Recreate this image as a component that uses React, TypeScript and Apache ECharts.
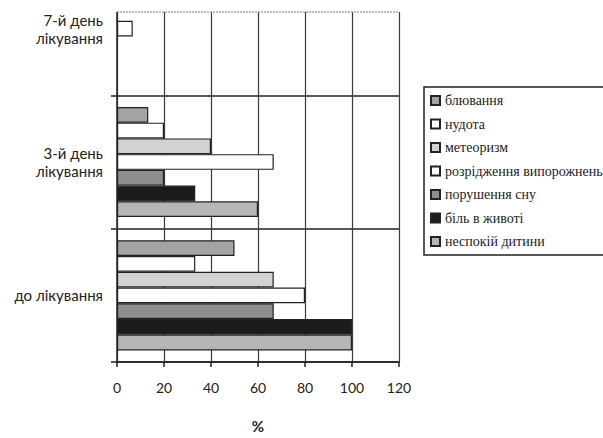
import React, { useEffect, useRef } from 'react';
import * as echarts from 'echarts';

// Categories bottom-to-top (ECharts horizontal bar: first category at bottom)
const categories = ['до лікування', '3-й день\nлікування', '7-й день\nлікування'];
const seriesNames = [
  'блювання',
  'нудота',
  'метеоризм',
  'розрідження випорожнень',
  'порушення сну',
  'біль в животі',
  'неспокій дитини',
];
// values in %, per category [до лікування, 3-й день, 7-й день]
const vomiting = [50, 13.3, null];
const nausea = [33.3, 20, null];
const meteorism = [66.7, 40, null];
const looseStool = [80, 66.7, 6.7];
const sleepDisorder = [66.7, 20, null];
const abdominalPain = [100, 33.3, null];
const restlessness = [100, 60, null];
const seriesValues = [vomiting, nausea, meteorism, looseStool, sleepDisorder, abdominalPain, restlessness];
const seriesColors = ['#a4a4a4', '#ffffff', '#d2d2d2', '#ffffff', '#8e8e8e', '#1c1c1c', '#b6b6b6'];
const xMin = 0;
const xMax = 120;
const xStep = 20;

const OFFSET = 50; // chart is shifted up so the top category band is cut off like in the source

export default function App() {
  const ref = useRef<HTMLDivElement>(null);
  useEffect(() => {
    if (!ref.current) return;
    const chart = echarts.init(ref.current, null, { renderer: 'svg' });
    const plotLeft = 117;
    const plotRight = 399;
    const plotTop = 12 + OFFSET;
    chart.setOption({
      animation: false,
      backgroundColor: '#ffffff',
      grid: { left: plotLeft, right: 603 - plotRight, top: OFFSET - 38, bottom: 62, containLabel: false },
      xAxis: {
        type: 'value',
        min: xMin,
        max: xMax,
        interval: xStep,
        name: '%',
        nameLocation: 'middle',
        nameGap: 56,
        nameTextStyle: { fontFamily: 'Lato', fontSize: 15, fontWeight: 'bold', color: '#222' },
        axisLine: { show: true, lineStyle: { color: '#222', width: 1.5 } },
        axisTick: { show: true, length: 5, lineStyle: { color: '#222', width: 1.5 } },
        axisLabel: { margin: 18, fontFamily: 'Lato', fontSize: 14, color: '#222' },
        splitLine: { show: true, lineStyle: { color: '#3a3a3a', width: 1.2 } },
      },
      yAxis: {
        type: 'category',
        data: categories,
        axisLine: { show: true, lineStyle: { color: '#222', width: 1.5 } },
        axisTick: { show: true, length: 6, lineStyle: { color: '#222', width: 1.5 } },
        axisLabel: {
          margin: 14,
          fontFamily: 'Lato',
          fontSize: 15,
          color: '#222',
          lineHeight: 18,
          align: 'right',
          padding: [6, 0, 0, 0],
        },
        splitLine: { show: true, lineStyle: { color: '#222', width: 1.5 } },
      },
      legend: {
        orient: 'vertical',
        left: 424,
        top: 87 + OFFSET,
        data: seriesNames,
        itemWidth: 9,
        itemHeight: 9,
        itemGap: 8.5,
        padding: [6, 4, 6, 6],
        borderColor: '#222',
        borderWidth: 1.5,
        icon: 'rect',
        textStyle: {
          fontFamily: '"Liberation Serif", "DejaVu Serif", serif',
          fontSize: 14,
          color: '#222',
          lineHeight: 15,
        },
      },
      series: seriesNames.map((name, i) => ({
        name,
        type: 'bar',
        data: seriesValues[i],
        barGap: '0%',
        barCategoryGap: '17.4%',
        itemStyle: { color: seriesColors[i], borderColor: '#222', borderWidth: 1.2 },
      })),
      graphic: [
        {
          type: 'rect',
          z: 100,
          shape: { x: 100, y: 0, width: 310, height: plotTop },
          style: { fill: '#ffffff' },
        },
        {
          type: 'line',
          z: 101,
          shape: { x1: plotLeft, y1: plotTop, x2: plotRight, y2: plotTop },
          style: { stroke: '#777', lineWidth: 1, lineDash: [2, 1] },
        },
      ],
    });
    return () => chart.dispose();
  }, []);
  return (
    <div
      ref={ref}
      style={{ position: 'absolute', left: 0, top: -OFFSET, width: 603, height: 438 + OFFSET }}
    />
  );
}
